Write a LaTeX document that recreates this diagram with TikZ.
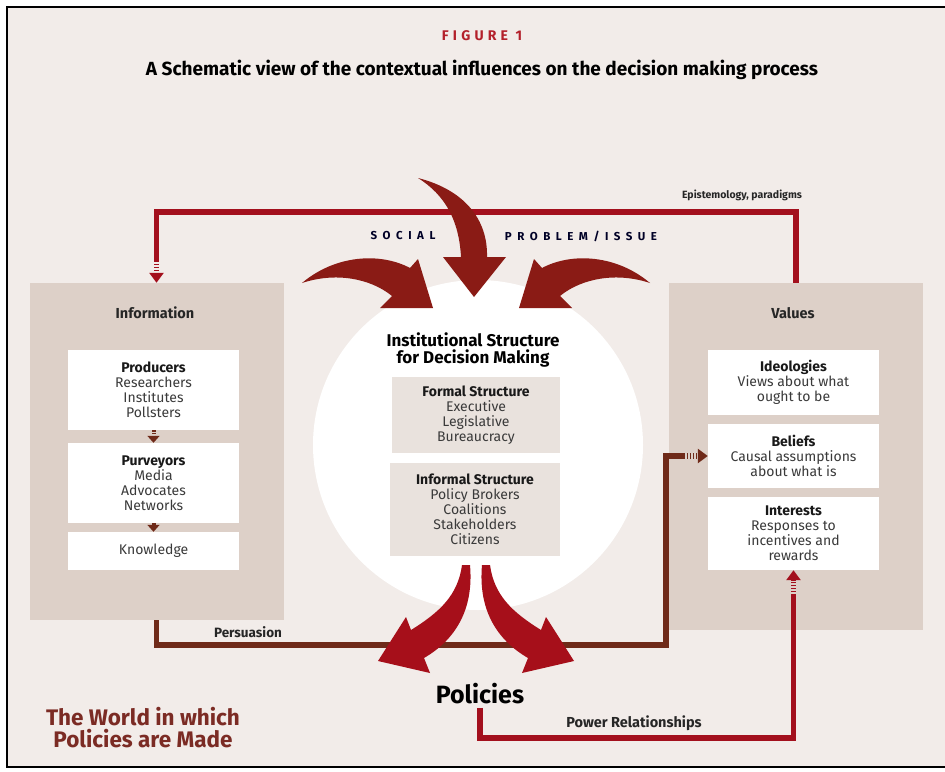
\documentclass[tikz,border=0pt]{standalone}
\usepackage{fontspec}
\setmainfont{Fira Sans}
\usetikzlibrary{arrows.meta,calc,positioning}
\definecolor{paper}{HTML}{F2ECE9}
\definecolor{panel}{HTML}{DDD0C8}
\definecolor{inner}{HTML}{E9E2DD}
\definecolor{loopred}{HTML}{A3101D}
\definecolor{darkarr}{HTML}{8A1B15}
\definecolor{brightarr}{HTML}{A60F1A}
\definecolor{brownln}{HTML}{6F2A19}
\definecolor{figred}{HTML}{B3202B}
\definecolor{worldred}{HTML}{7B2B24}
\definecolor{ink}{HTML}{3A3A3A}
\begin{document}
\begin{tikzpicture}[x=1pt,y=-1pt]

        \tikzstyle{panelbox} = [fill=panel, inner sep=0pt, minimum width=254pt]
        \tikzstyle{whitebox} = [fill=white, inner sep=0pt, minimum width=171pt, align=center, text=ink, font=\fontsize{14}{15}\selectfont]
        \tikzstyle{greybox}  = [fill=inner, inner sep=0pt, align=center, text=ink, font=\fontsize{14}{15}\selectfont]
        \tikzstyle{redline}  = [draw=loopred, line width=5.5pt]
        \tikzstyle{brownline}= [draw=brownln, line width=5.5pt]
        \tikzstyle{stripes}  = [dash pattern=on 1.6pt off 1.4pt, -{Triangle[width=14pt,length=10pt]}]
        \tikzstyle{tag}      = [font=\bfseries\fontsize{13.5}{15}\selectfont, text=black!85]
        \tikzstyle{head}     = [font=\bfseries\fontsize{14.5}{16}\selectfont, text=black!85]
        \tikzstyle{spaced}   = [font=\bfseries\fontsize{11.5}{13}\selectfont\addfontfeature{LetterSpace=48}, text=black!85!blue]
        \newcommand{\hd}[1]{{\color{black!90}\bfseries #1}}

        \useasboundingbox (0,0) rectangle (945,771);
        \fill[white] (0,0) rectangle (945,771);
        \filldraw[fill=paper, draw=black, line width=2.5pt] (7,7) rectangle (960,767);

        % titles
        \node[font=\bfseries\fontsize{14}{16}\selectfont\addfontfeature{LetterSpace=30}, text=figred] (fig) at (482,36) {FIGURE 1};
        \node[font=\bfseries\fontsize{19}{22}\selectfont] (sub) at (482,70) {A Schematic view of the contextual influences on the decision making process};

        % circle
        \node[circle, fill=white, minimum size=330pt, inner sep=0pt] (inst) at (478,445) {};
        \node[font=\bfseries\fontsize{17}{17.5}\selectfont, align=center] (insttitle) at (473,350) {Institutional Structure\\for Decision Making};
        \node[greybox, minimum width=168pt, minimum height=76pt] (formal) at (476,415)
                {\hd{Formal Structure}\\Executive\\Legislative\\Bureaucracy};
        \node[greybox, minimum width=170pt, minimum height=93pt] (informal) at (475,509.5)
                {\hd{Informal Structure}\\Policy Brokers\\Coalitions\\Stakeholders\\Citizens};

        % side panels
        \node[panelbox, minimum height=337pt] (info) at (156.5,451.5) {};
        \node[panelbox, minimum height=347pt] (values) at (796,456.5) {};
        \node[head] (infolabel) at (155,313) {Information};
        \node[head] (vallabel) at (793,313) {Values};

        \foreach \n/\y/\h/\t in {prod/390/80pt/{\hd{Producers}\\Researchers\\Institutes\\Pollsters},
                                 purv/483/80pt/{\hd{Purveyors}\\Media\\Advocates\\Networks},
                                 know/551/38pt/{Knowledge}}
        {
                \node[whitebox, minimum height=\h] (\n) at (153.5,\y) {\t};
        }
        \foreach \n/\y/\h/\t in {ideo/382.5/65pt/{\hd{Ideologies}\\Views about what\\ought to be},
                                 beli/456/64pt/{\hd{Beliefs}\\Causal assumptions\\about what is},
                                 inte/533.5/73pt/{\hd{Interests}\\Responses to\\incentives and\\rewards}}
        {
                \node[whitebox, minimum height=\h] (\n) at (793.5,\y) {\t};
        }

        \draw[brownln, line width=4pt, dash pattern=on 1.5pt off 1.2pt, -{Triangle[width=12pt,length=7pt]}] (prod.south) -- (purv.north);
        \draw[brownln, line width=4pt, dash pattern=on 1.5pt off 1.2pt, -{Triangle[width=12pt,length=7pt]}] (purv.south) -- (know.north);

        % connectors
        \coordinate (toprun) at (480,212);
        \coordinate (infoin) at ($(info.north)+(0,-22)$);
        \draw[redline] (values.north) |- (toprun) -| (infoin);
        \draw[redline, stripes] (infoin) -- (info.north);

        \node[font=\bfseries\fontsize{25}{27}\selectfont] (pol) at (480,694) {Policies};

        \coordinate (pturn) at (666,645);
        \coordinate (belin) at ($(beli.west)+(-24,0)$);
        \draw[brownline] (info.south) |- (pturn) |- (belin);
        \draw[brownline, stripes] (belin) -- (beli.west);

        \coordinate (wturn) at (600,738);
        \coordinate (intin) at ($(inte.south)+(0,25)$);
        \draw[redline] (pol.south) |- (wturn) -| (intin);
        \draw[redline, stripes] (intin) -- (inte.south);

        % big arrows
        \fill[darkarr] (418,178) .. controls (465,190) and (488,220) .. (487,257) -- (506,257) -- (474,297)
                -- (443,257) -- (461,257) .. controls (459,220) and (445,195) .. (418,178) -- cycle;
        \fill[darkarr] (302,283) .. controls (335,255) and (380,252) .. (410,268) -- (418,259) -- (433,308)
                -- (380,308) -- (392,296) .. controls (370,278) and (335,272) .. (302,283) -- cycle;
        \fill[darkarr] (650,283) .. controls (617,255) and (572,252) .. (542,268) -- (534,259) -- (519,308)
                -- (572,308) -- (560,296) .. controls (582,278) and (617,272) .. (650,283) -- cycle;
        \fill[brightarr] (462,565) -- (470,565) .. controls (474,610) and (455,640) .. (424,658) -- (430,673)
                -- (378,661) -- (406,617) -- (411,630) .. controls (440,612) and (458,595) .. (462,565) -- cycle;
        \fill[brightarr] (490,565) -- (482,565) .. controls (478,610) and (497,640) .. (528,658) -- (522,673)
                -- (574,661) -- (546,617) -- (541,630) .. controls (512,612) and (494,595) .. (490,565) -- cycle;

        % labels
        \node[tag, font=\bfseries\fontsize{10.5}{12}\selectfont] (epi) at (742,195) {Epistemology, paradigms};
        \node[spaced] (soc) at (403,236) {SOCIAL};
        \node[spaced] (prob) at (581,236) {PROBLEM/ISSUE};
        \node[tag] (pers) at (248,632) {Persuasion};
        \node[tag, font=\bfseries\fontsize{14.5}{16}\selectfont] (pow) at (634,723) {Power Relationships};
        \node[font=\bfseries\fontsize{22.5}{22}\selectfont, text=worldred, align=center] (world) at (143,728) {The World in which\\Policies are Made};

\end{tikzpicture}
\end{document}
